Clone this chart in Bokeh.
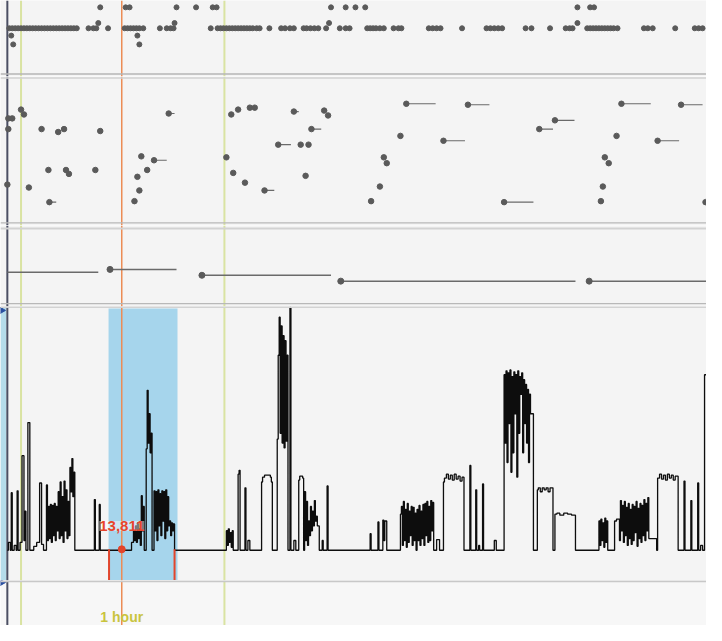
import numpy as np
from bokeh.plotting import figure
from bokeh.layouts import column
from bokeh.models import Range1d, Span
from bokeh.core.properties import value
from bokeh.embed import file_html
from bokeh.resources import INLINE

# ---------------- data ----------------
# time axis in ticks (70 ticks = 1 hour)
T_START, T_END = 0, 722

# Track A: event dots on several levels
a_main_t = [9, 12, 15, 18, 21, 24, 27, 30, 33, 36, 39, 42, 45, 48, 51, 54, 57, 60, 63, 66, 69, 72, 75, 78,
            90, 95, 98, 110, 127, 130, 133, 136, 139, 142, 146, 163, 170, 174, 177,
            215, 222, 225, 228, 231, 234, 237, 240, 243, 246, 249, 252, 255, 258, 262, 265,
            275, 287, 291, 296, 300, 310, 313, 317, 321, 325, 333, 347, 353, 357,
            375, 378, 381, 384, 388, 392, 402, 407, 410, 438, 442, 446, 450, 472,
            497, 501, 505, 509, 513, 537, 543, 562, 578, 582, 585,
            600, 603, 606, 609, 612, 615, 618, 621, 624, 627, 631, 658, 662, 667, 690, 710, 714, 718]
a_up_t = [100, 178, 336, 590]
a_top_t = [102, 128, 132, 180, 200, 217, 221, 338, 353, 363, 373, 590, 603, 607]
a_low1_t = [11, 140]
a_low2_t = [13, 142]
a_levels = {"main": 0.0, "up": 0.25, "top": 1.0, "low1": -0.35, "low2": -0.77}

# Track B: events (start, level, end)
b_t = [8, 12, 8, 21, 24, 42, 59, 65, 102, 7, 29, 49, 67, 70, 97, 50, 172, 144, 157, 150, 140, 142, 137,
       231, 236, 243, 255, 260, 238, 250, 270, 300, 331, 335, 318, 284, 307, 315, 312,
       415, 478, 409, 453, 392, 395, 388, 379, 515, 567, 551,
       635, 696, 630, 672, 618, 622, 616, 614, 721]
b_v = [110, 110, 99, 119, 114, 99, 96, 99, 97, 42, 39, 57, 57, 53, 57, 24, 115, 71, 67, 57, 50, 36, 25,
       70, 114, 119, 121, 121, 54, 44, 36, 117, 118, 113, 99, 83, 83, 83, 51,
       125, 124, 92, 87, 70, 64, 40, 25, 24, 108, 99,
       125, 124, 92, 87, 70, 64, 40, 25, 24]
b_end = [8, 12, 8, 21, 24, 42, 59, 65, 102, 7, 29, 49, 67, 70, 97, 57, 178, 144, 170, 150, 140, 142, 137,
         231, 236, 243, 255, 260, 238, 250, 280, 305, 331, 335, 328, 297, 307, 315, 312,
         445, 500, 409, 475, 392, 395, 388, 379, 545, 587, 565,
         665, 718, 630, 694, 618, 622, 616, 614, 740]

# Track C: state intervals
c_start = [7, 112, 206, 348, 602]
c_end = [100, 180, 338, 588, 740]
c_v = [35, 38, 32, 26, 26]
c_marked = [False, True, True, True, True]

# Signal (step, value changes at t)
sig_t = [7, 8, 10, 11, 12, 14, 16, 17, 18, 20, 22, 24, 25, 26, 28, 30, 34, 37, 40, 42, 44,
         47, 48, 49, 50, 51, 52, 53, 54, 55, 56, 57, 58, 59, 60, 61, 62, 63, 64, 65, 66, 67, 68,
         69, 70, 71, 72, 73, 74, 75, 76, 96, 97, 101, 102,
         134, 136, 137, 138, 139, 140, 141, 142, 143, 144, 145, 146, 147,
         149, 150, 151, 152, 153, 154, 155, 157, 158, 159, 160, 161, 162, 163, 164, 165, 166, 167,
         168, 169, 170, 171, 172, 173, 174, 175, 176, 177, 178,
         231, 232, 233, 234, 235, 236, 237, 238, 243, 244, 245, 250, 251, 253, 255,
         267, 268, 270, 276, 277, 278, 283, 284, 285, 286, 287, 288, 289, 290, 291, 292, 293, 294,
         296, 297, 300, 302, 305, 306, 309, 310, 311, 312, 313, 314, 315, 316, 317, 318, 319, 320,
         321, 322, 323, 324, 326, 329, 330, 334, 335,
         378, 379, 386, 387, 391, 392, 393, 395,
         409, 410, 411, 412, 413, 414, 415, 416, 417, 418, 419, 420, 421, 422, 423, 424, 425, 426,
         427, 428, 429, 430, 431, 432, 433, 434, 435, 436, 437, 438, 439, 440, 441, 442, 443,
         446, 449, 453, 454, 456, 458, 460, 462, 464, 466, 468, 470, 472, 474,
         480, 481, 486, 487, 489, 490, 493, 494, 505, 507,
         515, 516, 517, 518, 519, 520, 521, 522, 523, 524, 525, 526, 527, 528, 529, 530, 531, 532,
         533, 534, 535, 536, 537, 538, 539, 540, 541, 542, 545,
         549, 550, 552, 554, 556, 558, 560, 562, 565, 567, 569, 572, 576, 580, 584, 588,
         612, 613, 614, 615, 616, 617, 618, 619, 620, 621, 628, 630, 633,
         634, 635, 636, 637, 638, 639, 640, 641, 642, 643, 644, 645, 646, 647, 648, 649, 650, 651,
         652, 653, 654, 655, 656, 657, 658, 659, 660, 661, 662, 663, 664, 671,
         672, 674, 676, 678, 680, 682, 684, 686, 688, 690, 693,
         699, 700, 706, 707, 713, 714, 716, 718, 720, 722]
sig_v = [0, 8, 0, 59, 0, 5, 0, 61, 0, 8, 97, 10, 40, 0, 131, 0, 4, 8, 69, 6, 0,
         67, 10, 45, 12, 47, 8, 46, 15, 48, 10, 45, 20, 60, 12, 70, 15, 55, 8, 71, 20, 62, 12,
         50, 15, 85, 60, 94, 55, 80, 0, 52, 0, 47, 0,
         8, 20, 10, 25, 8, 28, 12, 22, 5, 56, 20, 45, 0,
         104, 164, 110, 140, 100, 120, 0, 61, 20, 60, 10, 62, 25, 58, 15, 61, 30, 60,
         12, 62, 20, 55, 25, 30, 15, 28, 20, 27, 0,
         20, 5, 22, 8, 18, 3, 20, 0, 78, 82, 0, 64, 0, 10, 0,
         70, 75, 77, 75, 70, 0, 114, 200, 239, 120, 230, 110, 220, 105, 215, 112, 200, 0,
         249, 0, 10, 0, 72, 76, 74, 0, 60, 10, 50, 5, 30, 15, 45, 20, 40, 25,
         51, 30, 35, 25, 0, 10, 0, 66, 0,
         17, 0, 29, 0, 31, 10, 30, 0,
         37, 45, 5, 50, 10, 42, 3, 48, 8, 40, 15, 45, 5, 44, 10, 38, 0, 42,
         10, 46, 5, 40, 12, 47, 5, 48, 15, 50, 8, 45, 10, 51, 20, 49, 0,
         11, 0, 70, 74, 78, 73, 77, 72, 78, 73, 76, 71, 75, 0,
         87, 0, 62, 0, 5, 0, 68, 0, 10, 0,
         180, 110, 184, 90, 182, 130, 185, 80, 178, 100, 183, 140, 180, 75, 184, 120, 178, 160,
         182, 100, 175, 130, 170, 110, 165, 90, 160, 140, 0,
         62, 64, 60, 64, 62, 64, 60, 64, 0, 37, 38, 36, 38, 37, 36, 0,
         30, 5, 32, 10, 28, 3, 33, 8, 30, 0, 30, 32, 10,
         51, 20, 46, 8, 50, 15, 44, 5, 48, 12, 42, 6, 47, 10, 45, 18, 50, 4,
         43, 12, 48, 8, 46, 15, 52, 10, 48, 20, 54, 12, 12, 0,
         74, 78, 73, 77, 72, 78, 74, 77, 72, 76, 0,
         71, 0, 51, 0, 69, 0, 5, 0, 180, 180]

# Markers / selection
marker_t = [21, 124, 229]
marker_color = ["#d9e3a2", "#ec8c55", "#d9e3a2"]
select_t0, select_t1 = 110.5, 181
bracket_t = [111, 178]
cursor_t, cursor_v = 124, 1
cursor_label = "13,811"
span_label = "1 hour"
edge_t = 7

# ---------------- drawing ----------------
W = 706
BG = "#f4f4f4"
xr = Range1d(T_START, T_END)


def panel(h, y0, y1, bg=BG):
    p = figure(width=W, height=h, x_range=xr, y_range=Range1d(y0, y1),
               output_backend="svg", toolbar_location=None,
               x_axis_type=None, y_axis_type=None, min_border=0,
               background_fill_color=bg, border_fill_color=bg, outline_line_color=None)
    p.min_border_left = p.min_border_right = p.min_border_top = p.min_border_bottom = 0
    p.grid.grid_line_color = None
    return p


def vlines(p):
    yr = p.y_range
    p.segment(x0=marker_t, x1=marker_t, y0=[yr.start] * 3, y1=[yr.end] * 3,
              line_color=marker_color, line_width=[2, 1.5, 2])
    p.segment(x0=[edge_t], x1=[edge_t], y0=[yr.start], y1=[yr.end],
              line_color="#4b4f63", line_width=2)


def hsep(p, loc, color, width):
    p.add_layout(Span(location=loc, dimension="width", line_color=color, line_width=width))


DOT = "#5a5a5a"

# Panel A
pA = panel(76, -2.302, 1.326)
vlines(pA)
for key, arr in [("main", a_main_t), ("up", a_up_t), ("top", a_top_t), ("low1", a_low1_t), ("low2", a_low2_t)]:
    pA.scatter(arr, [a_levels[key]] * len(arr), size=5, color=DOT)
hsep(pA, -2.186, "#b6b6b6", 1.5)

# Panel B
pB = panel(149, 0, 153)
vlines(pB)
pB.segment(x0=b_t, x1=b_end, y0=b_v, y1=b_v, line_color="#6a6a6a", line_width=1.2)
pB.scatter(b_t, b_v, size=5.5, color=DOT)
hsep(pB, 151.5, "#d2d2d2", 1.5)
hsep(pB, 2.7, "#b8b8b8", 1.2)

# Panel C
pC = panel(81, 0, 83)
vlines(pC)
pC.segment(x0=c_start, x1=c_end, y0=c_v, y1=c_v, line_color="#6a6a6a", line_width=1.5)
mk = [i for i, m in enumerate(c_marked) if m]
pC.scatter([c_start[i] for i in mk], [c_v[i] for i in mk], size=6, color=DOT)
hsep(pC, 80, "#d2d2d2", 2)
hsep(pC, 3, "#b8b8b8", 1.2)

# Panel D (signal)
pD = panel(274, -31, 250)
pD.quad(left=[select_t0], right=[select_t1], bottom=[-31], top=[248],
        fill_color="#a6d5ec", line_color=None)
pD.quad(left=[0], right=[edge_t - 1], bottom=[-31], top=[249],
        fill_color="#b5dcea", line_color=None)
vlines(pD)
pD.step(sig_t, sig_v, mode="after", line_color="#0d0d0d", line_width=1.3)
pD.segment(x0=bracket_t, x1=bracket_t, y0=[cursor_v] * 2, y1=[-31] * 2,
           line_color="#e2452c", line_width=2)
pD.scatter([cursor_t], [cursor_v], size=7, color="#e2452c")
pD.text([cursor_t], [cursor_v + 24], text=[cursor_label], text_font=value("Liberation Sans"),
        text_font_style="bold", text_font_size="15px", text_align="center",
        text_baseline="middle", text_color="#e8452c",
        background_fill_color="white", background_fill_alpha=0.45)
pD.scatter([1], [246], marker="triangle", angle=-np.pi / 2, size=7, color="#2a4fa0")
hsep(pD, 249.5, "#d2d2d2", 2)

# Panel E (bottom)
pE = panel(45, 0, 46, bg="#f7f7f7")
vlines(pE)
pE.text([cursor_t], [9], text=[span_label], text_font=value("Liberation Sans"),
        text_font_style="bold", text_font_size="14px", text_align="center",
        text_baseline="middle", text_color="#c9c43e")
pE.scatter([1], [44], marker="triangle", angle=-np.pi / 2, size=7, color="#2a4fa0")
hsep(pE, 45.2, "#c8c8c8", 2)

layout = column(pA, pB, pC, pD, pE, spacing=0)
open("out.html", "w").write(file_html(layout, INLINE))
